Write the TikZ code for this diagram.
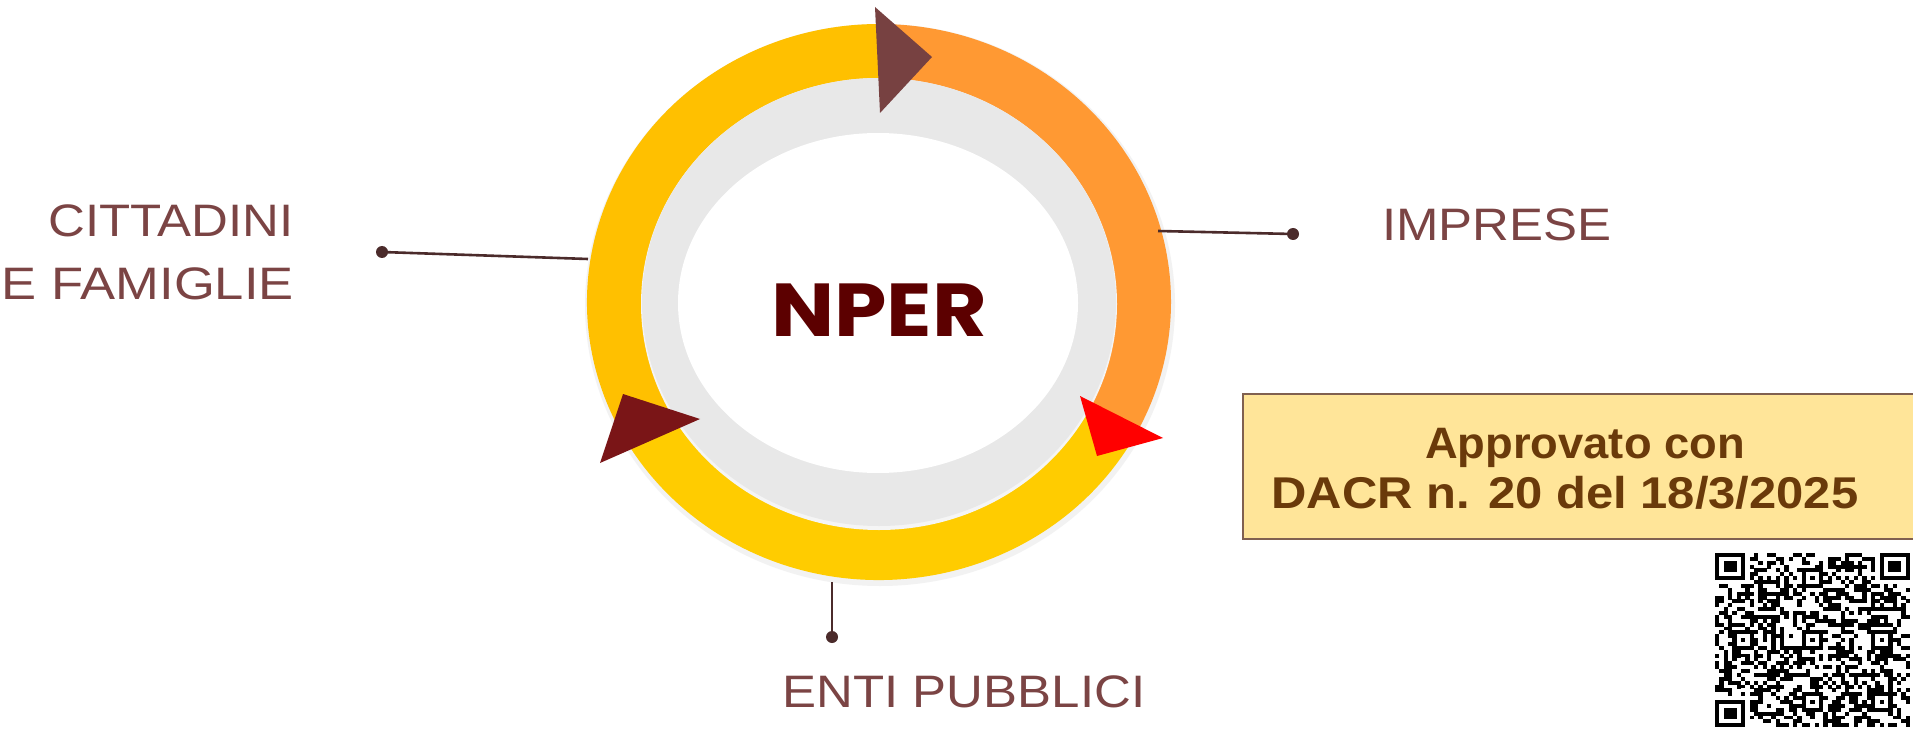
\documentclass[tikz,border=0pt]{standalone}
\usepackage{fontspec}
\setmainfont{Liberation Sans}
\newfontfamily\lblfont[FakeStretch=1.12]{Liberation Sans}
\newfontfamily\lblwidefont[FakeStretch=1.155]{Liberation Sans}
\newfontfamily\nperfont[FakeStretch=1.12]{Poppins}
\newfontfamily\boxfont[FakeStretch=1.1]{Liberation Sans}
\newfontfamily\boxnarrowfont[FakeStretch=1.03]{Liberation Sans}
\definecolor{ringgold}{HTML}{FFC000}
\definecolor{ringyellow}{HTML}{FFCC00}
\definecolor{ringorange}{HTML}{FF9933}
\definecolor{ringgrey}{HTML}{E8E8E8}
\definecolor{arrowbrown}{HTML}{774141}
\definecolor{arrowred}{HTML}{FF0000}
\definecolor{arrowdark}{HTML}{7A1517}
\definecolor{lblcol}{HTML}{7B4444}
\definecolor{npercol}{HTML}{5C0000}
\definecolor{boxfill}{HTML}{FFE599}
\definecolor{boxline}{HTML}{806050}
\definecolor{boxtext}{HTML}{6A3A0A}
\definecolor{conncol}{HTML}{4B2B2B}
\tikzset{
  labeltext/.style={font={\lblfont\fontsize{45.5}{54}\selectfont}, text=lblcol, inner sep=0pt},
  boxtextstyle/.style={font={\boxfont\bfseries\fontsize{44}{50}\selectfont}, text=boxtext, inner sep=0pt},
  connline/.style={draw=conncol, line width=2.6pt},
  dotmark/.style={circle, fill=conncol, minimum size=12pt, inner sep=0pt},
}
\begin{document}
\begin{tikzpicture}[x=1pt,y=-1pt]
\useasboundingbox (0,0) rectangle (1913,735);
\fill[white] (0,0) rectangle (1913,735);
% soft shadow
\fill[black!5] (880,305) ellipse[x radius=295, y radius=281];
% ring segments
\begin{scope}[shift={(879,302)}]
\fill[ringorange] (0,0) -- (-90:292 and 278) arc[start angle=-90,end angle=30,x radius=292,y radius=278] -- cycle;
\fill[ringyellow] (0,0) -- (30:292 and 278) arc[start angle=30,end angle=150,x radius=292,y radius=278] -- cycle;
\fill[ringgold] (0,0) -- (150:292 and 278) arc[start angle=150,end angle=270,x radius=292,y radius=278] -- cycle;
\end{scope}
\fill[black!4] (879,304) ellipse[x radius=238, y radius=226];
\fill[ringgrey] (879,302) ellipse[x radius=237, y radius=224];
\fill[white] (878,303) ellipse[x radius=200, y radius=170];
% arrow heads
\fill[arrowbrown] (875,7) -- (932,57) -- (880,113) -- cycle;
\fill[arrowred] (1080,396) -- (1163,438) -- (1097,456) -- cycle;
\fill[arrowdark] (623,394) -- (700,419) -- (600,463) -- cycle;
% centre label
\node[font={\nperfont\bfseries\fontsize{75}{80}\selectfont}, text=npercol, inner sep=0pt, anchor=base] (nper) at (879,336) {NPER};
% connectors
\node[dotmark] (dotleft) at (382,252) {};
\coordinate (ringleft) at (588,259);
\draw[connline] (dotleft.center) -- (ringleft);
\node[dotmark] (dotright) at (1293,234) {};
\coordinate (ringright) at (1158,231);
\draw[connline] (ringright) -- (dotright.center);
\node[dotmark] (dotbottom) at (832,637) {};
\coordinate (ringbottom) at (832,582);
\draw[connline] (ringbottom) -- (dotbottom.center);
% labels
\node[labeltext, anchor=base east] (cittadini) at (294,237) {CITTADINI};
\node[labeltext, font={\lblwidefont\fontsize{45.5}{54}\selectfont}, anchor=base east] (famiglie) at (294,299) {E FAMIGLIE};
\node[labeltext, anchor=base west] (imprese) at (1382,241) {IMPRESE};
\node[labeltext, anchor=base] (enti) at (964,707) {ENTI PUBBLICI};
% approval box
\draw[fill=boxfill, draw=boxline, line width=1.5pt] (1243,394) rectangle (1920,539);
\node[boxtextstyle, font={\boxnarrowfont\bfseries\fontsize{44}{50}\selectfont}, anchor=base] (approvato) at (1585,458) {Approvato con};
\node[boxtextstyle, font={\boxfont\bfseries\fontsize{44.5}{50}\selectfont}, anchor=base] (dacr) at (1565,508) {DACR n. 20 del 18/3/2025};
% QR code
\begin{scope}[shift={(1715,553)}, x=4.33pt, y=-3.87pt]
\pgfmathsetseed{20250318}
\foreach \i in {0,...,44}{
  \foreach \j in {0,...,44}{
    \pgfmathtruncatemacro\qb{rnd<0.48}
    \ifnum\qb=1 \fill[black] (\i,\j) rectangle +(1.02,1.02); \fi
  }
}
\foreach \fx/\fy in {0/0, 38/0, 0/38}{
  \fill[white] (\fx-1,\fy-1) rectangle +(9,9);
  \fill[black] (\fx,\fy) rectangle +(7,7);
  \fill[white] (\fx+1,\fy+1) rectangle +(5,5);
  \fill[black] (\fx+2,\fy+2) rectangle +(3,3);
}
\fill[white] (8,6) rectangle (37,7);
\fill[white] (6,8) rectangle (7,37);
\foreach \k in {8,10,...,36}{
  \fill[black] (\k,6) rectangle +(1,1);
  \fill[black] (6,\k) rectangle +(1,1);
}
\foreach \ax/\ay in {6/22, 22/6, 22/22, 22/38, 38/22, 38/38}{
  \fill[black] (\ax-2,\ay-2) rectangle +(5,5);
  \fill[white] (\ax-1,\ay-1) rectangle +(3,3);
  \fill[black] (\ax,\ay) rectangle +(1,1);
}
\end{scope}
\end{tikzpicture}
\end{document}
